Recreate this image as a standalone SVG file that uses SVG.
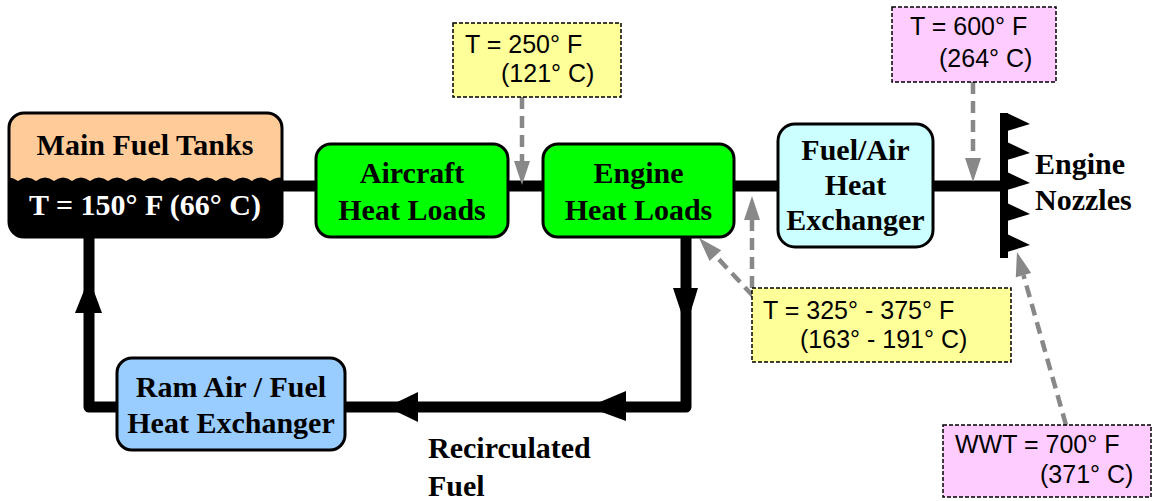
<svg xmlns="http://www.w3.org/2000/svg" width="1156" height="501" viewBox="0 0 1156 501">
<style>
.box{stroke:#000;stroke-width:3}
.bt{font-family:"Liberation Serif",serif;font-weight:bold;font-size:30px;fill:#000}
.st{font-family:"Liberation Sans",Arial,sans-serif;font-size:25px;fill:#000}
.call{stroke:#000;stroke-width:1.5;stroke-dasharray:4 2}
.pipe{fill:none;stroke:#000;stroke-width:11;stroke-linejoin:round}
.dash{fill:none;stroke:#888;stroke-width:4.5;stroke-dasharray:12 7}
</style>
<defs>
<marker id="ga" markerUnits="userSpaceOnUse" markerWidth="26" markerHeight="18" refX="0" refY="8" orient="auto" overflow="visible">
<path d="M0,0 L24,8 L0,16 z" fill="#888"/>
</marker>
<clipPath id="tankclip"><rect x="9" y="113" width="273" height="124" rx="15"/></clipPath>
</defs>

<g id="connectors">
<path class="pipe" d="M282,186 H316 M508,186 H543 M734,186 H778 M933,186 H1001"/>
<path class="pipe" d="M686,236 V407 H89 V236"/>
<polygon points="673,288 698,288 686,327" fill="#000"/>
<polygon points="89,278 102,313 75,313" fill="#000"/>
<polygon points="387,407 418,392 418,422" fill="#000"/>
<polygon points="588,407 626,391 626,421" fill="#000"/>
<line class="dash" x1="522" y1="97" x2="522" y2="161" marker-end="url(#ga)"/>
<line class="dash" x1="973" y1="82" x2="973" y2="158" marker-end="url(#ga)"/>
<line class="dash" x1="752" y1="288" x2="752" y2="220" marker-end="url(#ga)"/>
<line class="dash" x1="753" y1="296" x2="715.4" y2="255.6" marker-end="url(#ga)"/>
<line class="dash" x1="1066" y1="425" x2="1023.5" y2="275.1" marker-end="url(#ga)"/>
</g>

<g id="tank">
<rect x="9" y="113" width="273" height="124" rx="15" fill="#FFCC99"/>
<path clip-path="url(#tankclip)" fill="#000" d="M0,181 q9,-7 18,0 q9,-7 18,0 q9,-7 18,0 q9,-7 18,0 q9,-7 18,0 q9,-7 18,0 q9,-7 18,0 q9,-7 18,0 q9,-7 18,0 q9,-7 18,0 q9,-7 18,0 q9,-7 18,0 q9,-7 18,0 q9,-7 18,0 q9,-7 18,0 q9,-7 18,0 L300,240 L0,240 Z"/>
<rect class="box" x="9" y="113" width="273" height="124" rx="15" fill="none"/>
<text class="bt" x="145" y="155" text-anchor="middle">Main Fuel Tanks</text>
<text class="bt" x="145" y="215" text-anchor="middle" style="fill:#fff">T = 150° F (66° C)</text>
</g>

<g id="aircraft">
<rect class="box" x="316" y="144" width="192" height="93" rx="15" fill="#00FF00"/>
<text class="bt" x="412" y="183" text-anchor="middle">Aircraft</text>
<text class="bt" x="412" y="220" text-anchor="middle">Heat Loads</text>
</g>

<g id="engine">
<rect class="box" x="543" y="144" width="191" height="93" rx="15" fill="#00FF00"/>
<text class="bt" x="638.5" y="183" text-anchor="middle">Engine</text>
<text class="bt" x="638.5" y="220" text-anchor="middle">Heat Loads</text>
</g>

<g id="fuelair">
<rect class="box" x="778" y="124" width="155" height="123" rx="17" fill="#CCFFFF"/>
<text class="bt" x="855.5" y="160" text-anchor="middle">Fuel/Air</text>
<text class="bt" x="855.5" y="195" text-anchor="middle">Heat</text>
<text class="bt" x="855.5" y="230" text-anchor="middle">Exchanger</text>
</g>

<g id="nozzles">
<rect x="1000" y="113" width="8" height="145" fill="#000"/>
<polygon points="1007,113 1030,124 1007,131" fill="#000"/>
<polygon points="1007,142 1030,153 1007,160" fill="#000"/>
<polygon points="1007,172 1030,183 1007,190" fill="#000"/>
<polygon points="1007,203 1030,214 1007,221" fill="#000"/>
<polygon points="1007,234 1030,245 1007,252" fill="#000"/>
<text class="bt" x="1035" y="174">Engine</text>
<text class="bt" x="1035" y="210">Nozzles</text>
</g>

<g id="ramair">
<rect class="box" x="117" y="358" width="228" height="92" rx="15" fill="#99CCFF"/>
<text class="bt" x="231" y="397" text-anchor="middle">Ram Air / Fuel</text>
<text class="bt" x="231" y="433" text-anchor="middle">Heat Exchanger</text>
</g>

<g id="recirc">
<text class="bt" x="428" y="458">Recirculated</text>
<text class="bt" x="428" y="496">Fuel</text>
</g>

<g id="t250">
<rect class="call" x="453" y="23" width="168" height="74" fill="#FFFF99"/>
<text class="st" x="465" y="53">T = 250° F</text>
<text class="st" x="501" y="82">(121° C)</text>
</g>

<g id="t600">
<rect class="call" x="892" y="7" width="164" height="75" fill="#FFCCFF"/>
<text class="st" x="910" y="35">T = 600° F</text>
<text class="st" x="939" y="67">(264° C)</text>
</g>

<g id="t325">
<rect class="call" x="752" y="288" width="259" height="74" fill="#FFFF99"/>
<text class="st" x="763" y="319">T = 325° - 375° F</text>
<text class="st" x="800" y="348">(163° - 191° C)</text>
</g>

<g id="wwt">
<rect class="call" x="943" y="425" width="208" height="72" fill="#FFCCFF"/>
<text class="st" x="955" y="453">WWT = 700° F</text>
<text class="st" x="1040" y="483">(371° C)</text>
</g>
</svg>
